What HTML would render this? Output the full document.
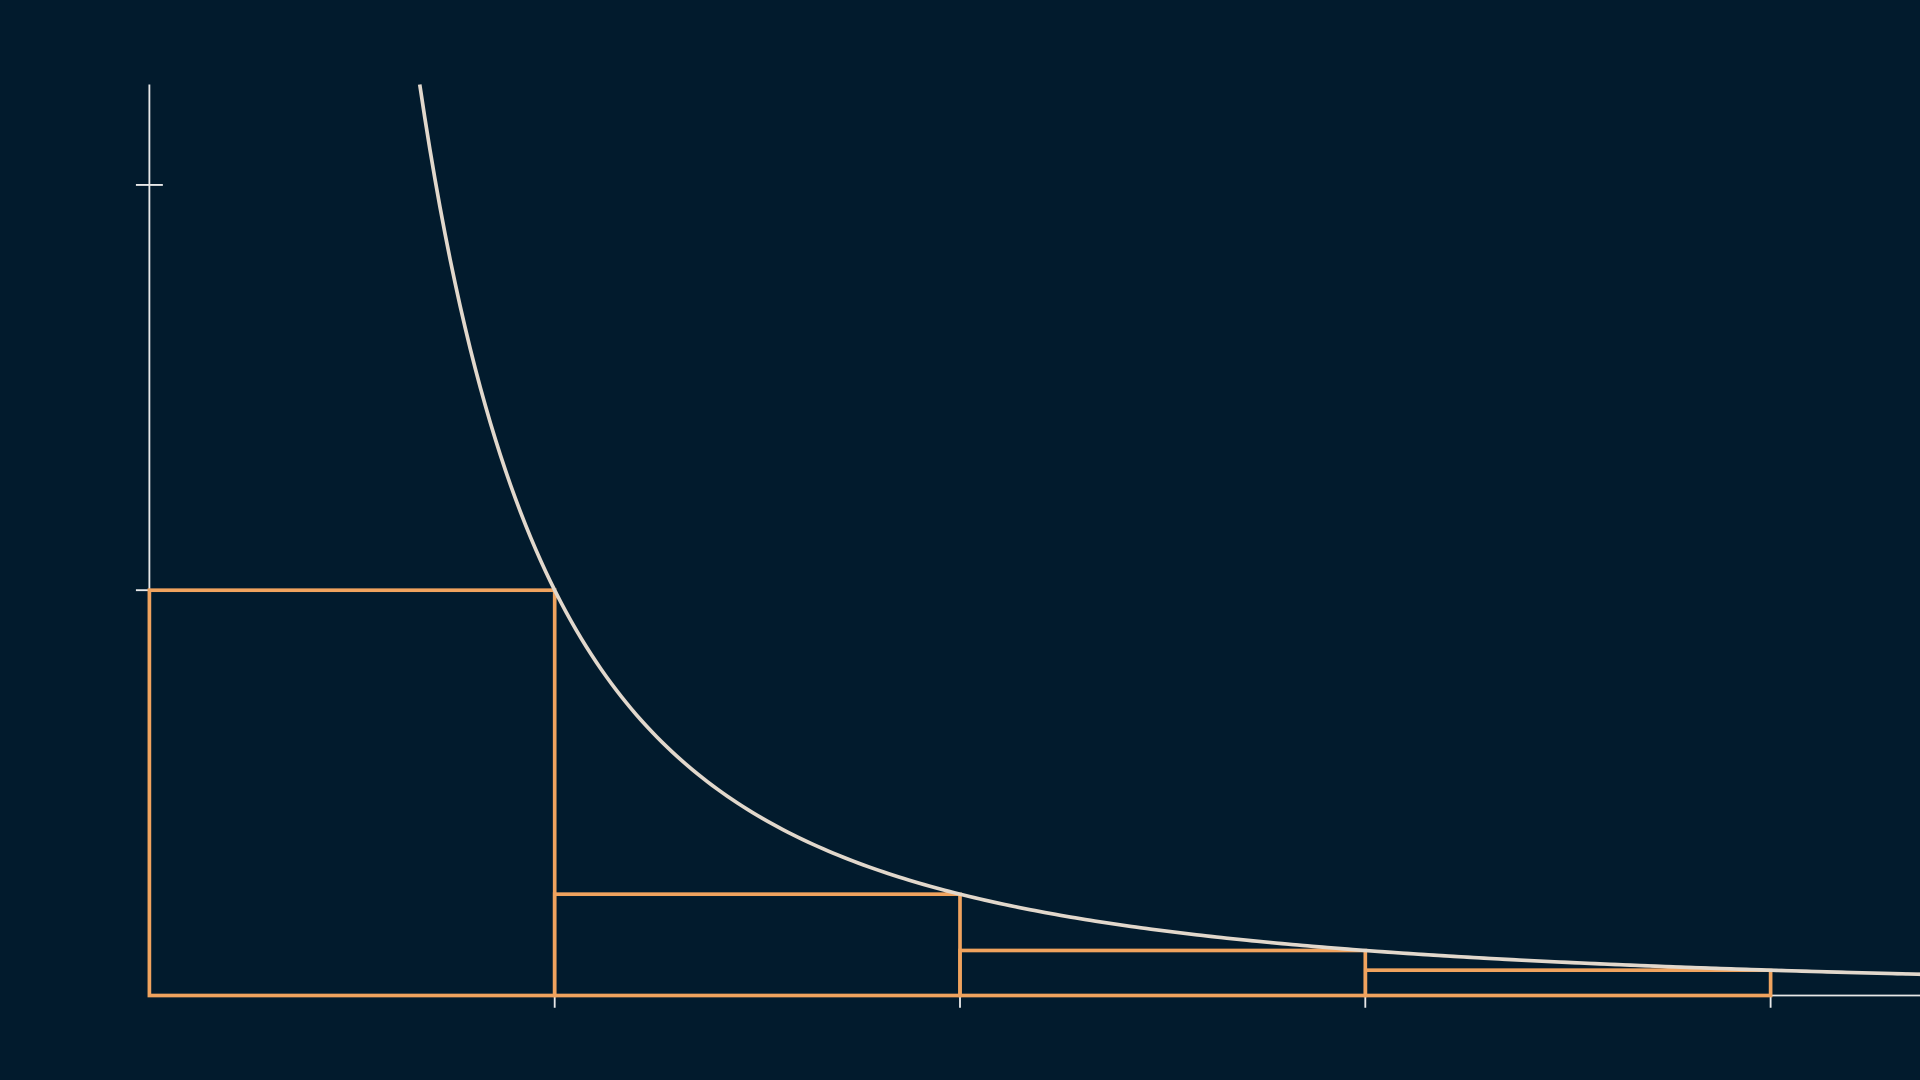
<!DOCTYPE html>
<html>
<head>
<meta charset="utf-8">
<style>
html,body{margin:0;padding:0;background:#021b2d;}
svg{display:block;}
</style>
</head>
<body>
<svg id="chart" width="1920" height="1080" viewBox="0 0 1568 882" xmlns="http://www.w3.org/2000/svg">
<rect x="0" y="0" width="1568" height="882" fill="#021b2d"/>
</svg>
<script>
const xTickValues = [1, 2, 3, 4];
const yTickValues = [1, 2];
const rectLefts = [0, 1, 2, 3];
const rectHeights = [1, 0.25, 0.1111, 0.0625];
const curveStart = 0.667;
const curveEnd = 4.4;

const X0 = 122, Y0 = 813, U = 331, YTOP = 69, XRIGHT = 1568;
const sx = v => X0 + v * U;
const sy = v => Y0 - v * U;
const svg = document.getElementById('chart');
const NS = 'http://www.w3.org/2000/svg';
function mk(tag, attrs) {
  const e = document.createElementNS(NS, tag);
  for (const k in attrs) e.setAttribute(k, attrs[k]);
  svg.appendChild(e);
  return e;
}
const axisColor = '#e8e8e8', orange = '#f0a35e', curveColor = '#e2d8cc';

const xAxis = mk('line', {x1: X0, y1: Y0, x2: XRIGHT, y2: Y0, stroke: axisColor, 'stroke-width': 1.5});


const yAxis = mk('line', {x1: X0, y1: YTOP, x2: X0, y2: Y0, stroke: axisColor, 'stroke-width': 1.5});



xTickValues.forEach(v => {
  const t = mk('line', {x1: sx(v), y1: Y0, x2: sx(v), y2: Y0 + 10, stroke: axisColor, 'stroke-width': 1.5});
  
  
});
yTickValues.forEach(v => {
  const t = mk('line', {x1: X0 - 11, y1: sy(v), x2: X0 + 11, y2: sy(v), stroke: axisColor, 'stroke-width': 1.5});
  
  
});

rectLefts.forEach((l, i) => {
  const h = rectHeights[i];
  const r = mk('rect', {x: sx(l), y: sy(h), width: U, height: h * U, fill: 'none', stroke: orange, 'stroke-width': 3});
  
  
});

let d = '';
const N = 300;
for (let i = 0; i <= N; i++) {
  const x = curveStart + (curveEnd - curveStart) * i / N;
  const y = 1 / (x * x);
  d += (i ? 'L' : 'M') + sx(x).toFixed(2) + ' ' + sy(y).toFixed(2);
}
const c = mk('path', {d: d, fill: 'none', stroke: curveColor, 'stroke-width': 3});


</script>
</body>
</html>
